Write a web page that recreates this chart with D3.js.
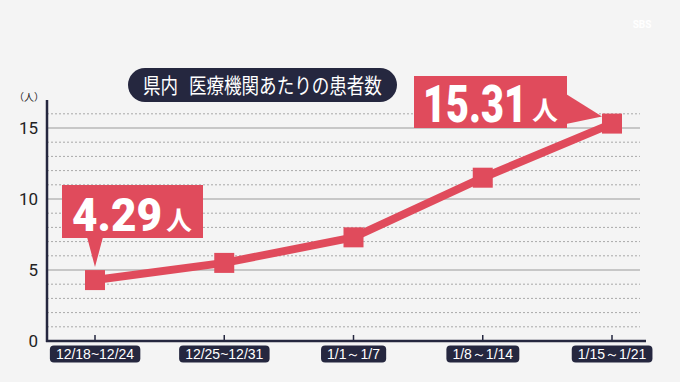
<!DOCTYPE html>
<html><head><meta charset="utf-8">
<script src="https://cdn.jsdelivr.net/npm/d3@7"></script>
<style>
html,body{margin:0;padding:0;background:#f4f4f4;}
svg{display:block;}
</style></head>
<body>
<svg id="chart" width="680" height="382"></svg>
<script>
const categories = ["12/18~12/24","12/25~12/31","1/1～1/7","1/8～1/14","1/15～1/21"];
const values = [4.29, 5.5, 7.3, 11.5, 15.31];
const yTicks = [0, 5, 10, 15];
const minorTicks = [1,2,3,4,6,7,8,9,11,12,13,14,16];
const titleA = "県内";
const titleB = "医療機関あたりの患者数";
const unit = "（人）";

const red = "#e04b5c", navy = "#25273f";
const svg = d3.select("#chart");
const W = 680, H = 382;
svg.append("rect").attr("width",W).attr("height",H).attr("fill","#f4f4f4");

const x = d3.scalePoint().domain(categories).range([95, 612]);
const y = d3.scaleLinear().domain([0, 15]).range([341, 128]);
const gridL = 47, gridR = 640;

// gridlines
svg.append("g").selectAll("line").data(minorTicks).join("line")
  .attr("x1", gridL).attr("x2", gridR).attr("y1", d=>y(d)).attr("y2", d=>y(d))
  .attr("stroke","#a9a9a9").attr("stroke-width",1).attr("stroke-dasharray","2,2");
svg.append("g").selectAll("line").data(yTicks.filter(d=>d>0)).join("line")
  .attr("x1", gridL).attr("x2", gridR).attr("y1", d=>y(d)).attr("y2", d=>y(d))
  .attr("stroke","#b8b8b8").attr("stroke-width",1.5);

// y axis
const yAxis = d3.axisLeft(y).tickValues(yTicks).tickSize(0).tickPadding(8);
const yg = svg.append("g").attr("transform",`translate(${gridL},0)`).call(yAxis);
yg.select(".domain").remove();
yg.selectAll("text").attr("font-family","Roboto, 'Noto Sans', sans-serif").attr("font-size",17)
  .attr("fill","#222").attr("dx",-1).attr("dy","0.35em");
svg.append("line").attr("x1",gridL).attr("x2",gridL).attr("y1",100).attr("y2",342)
  .attr("stroke",navy).attr("stroke-width",2.5);
svg.append("text").attr("x",29).attr("y",101).attr("text-anchor","middle")
  .attr("font-family","'Noto Sans CJK JP', sans-serif").attr("font-size",10).attr("fill","#222").text(unit);

// x axis
const xAxis = d3.axisBottom(x).tickSize(0).tickFormat("");
const xg = svg.append("g").attr("transform",`translate(0,${y(0)})`).call(xAxis);
xg.select(".domain").remove();
svg.append("line").attr("x1",gridL-1).attr("x2",646).attr("y1",y(0)).attr("y2",y(0))
  .attr("stroke",navy).attr("stroke-width",2.5);
svg.append("g").selectAll("line").data(categories).join("line")
  .attr("x1",d=>x(d)).attr("x2",d=>x(d)).attr("y1",y(0)-6).attr("y2",y(0))
  .attr("stroke",navy).attr("stroke-width",1.5);

// x labels pills
const xl = svg.append("g").selectAll("g").data(categories).join("g")
  .attr("transform",d=>`translate(${x(d)},354)`);
xl.append("text").attr("class","xt").attr("text-anchor","middle").attr("dy","0.36em")
  .attr("font-family","'Liberation Sans Narrow', 'Arial Narrow', 'Liberation Sans', sans-serif")
  .attr("font-size",14).attr("fill","#fff").text(d=>d);
xl.each(function(){
  const g = d3.select(this);
  const t = g.select("text");
  const bb = t.node().getBBox();
  g.insert("rect","text").attr("x",bb.x-6).attr("y",-8.5).attr("width",bb.width+12).attr("height",17)
    .attr("rx",4).attr("fill",navy);
});

// line
const line = d3.line().x((d,i)=>x(categories[i])).y(d=>y(d));
svg.append("path").datum(values).attr("d",line).attr("fill","none")
  .attr("stroke",red).attr("stroke-width",8).attr("stroke-linejoin","round");
svg.append("g").selectAll("rect").data(values).join("rect")
  .attr("x",(d,i)=>x(categories[i])-10).attr("y",d=>y(d)-10).attr("width",20).attr("height",20)
  .attr("fill",red);

// title pill
svg.append("rect").attr("x",128).attr("y",68).attr("width",269).attr("height",34).attr("rx",17).attr("fill",navy);
const tg = svg.append("g");
const tt = tg.append("text").attr("x",0).attr("y",0).attr("dy","0.36em")
  .attr("font-family","'Noto Sans CJK JP', sans-serif").attr("font-size",21).attr("fill","#fff");
tt.append("tspan").text(titleA);
tt.append("tspan").attr("dx",13).text(titleB);
{
  const w = tt.node().getBBox().width;
  tg.attr("transform",`translate(143,85) scale(${239/w},1)`);
}

const numFont = "Roboto, 'Noto Sans', sans-serif";
const jpFont = "'Noto Sans CJK JP', sans-serif";

function bigNumber(xpos, ypos, size, targetW, val){
  const g = svg.append("g");
  const t = g.append("text").attr("x",0).attr("y",0).attr("fill","#fff")
    .attr("font-family",numFont).attr("font-weight",900).attr("font-size",size)
    .text(d3.format(".2f")(val));
  const w = t.node().getComputedTextLength();
  g.attr("transform",`translate(${xpos},${ypos}) scale(${targetW/w},1)`);
}

// callout 1 (first value)
const v0 = values[0], px0 = x(categories[0]), py0 = y(v0);
svg.append("rect").attr("x",62).attr("y",185).attr("width",141).attr("height",53).attr("fill",red);
svg.append("path").attr("d",`M${px0-8},237 L${px0+8},237 L${px0},${py0-13} Z`).attr("fill",red);
bigNumber(72, 231, 47, 90, v0);
svg.append("text").attr("x",166).attr("y",230).attr("fill","#fff")
  .attr("font-family",jpFont).attr("font-weight",700).attr("font-size",26).text("人");

// callout 2 (last value)
const v4 = values[4], px4 = x(categories[4]), py4 = y(v4);
svg.append("rect").attr("x",414).attr("y",76).attr("width",153).attr("height",52).attr("fill",red);
svg.append("path").attr("d",`M566,94 L${px4-10},${py4-7} L566,124 Z`).attr("fill",red);
bigNumber(423, 122, 51, 104, v4);
svg.append("text").attr("x",532).attr("y",120).attr("fill","#fff")
  .attr("font-family",jpFont).attr("font-weight",700).attr("font-size",26).text("人");

// watermark
svg.append("text").attr("x",642).attr("y",28).attr("text-anchor","middle").attr("fill","#fff")
  .attr("font-family","Roboto, sans-serif").attr("font-weight",700).attr("font-size",10).text("SBS");
</script>
</body></html>
